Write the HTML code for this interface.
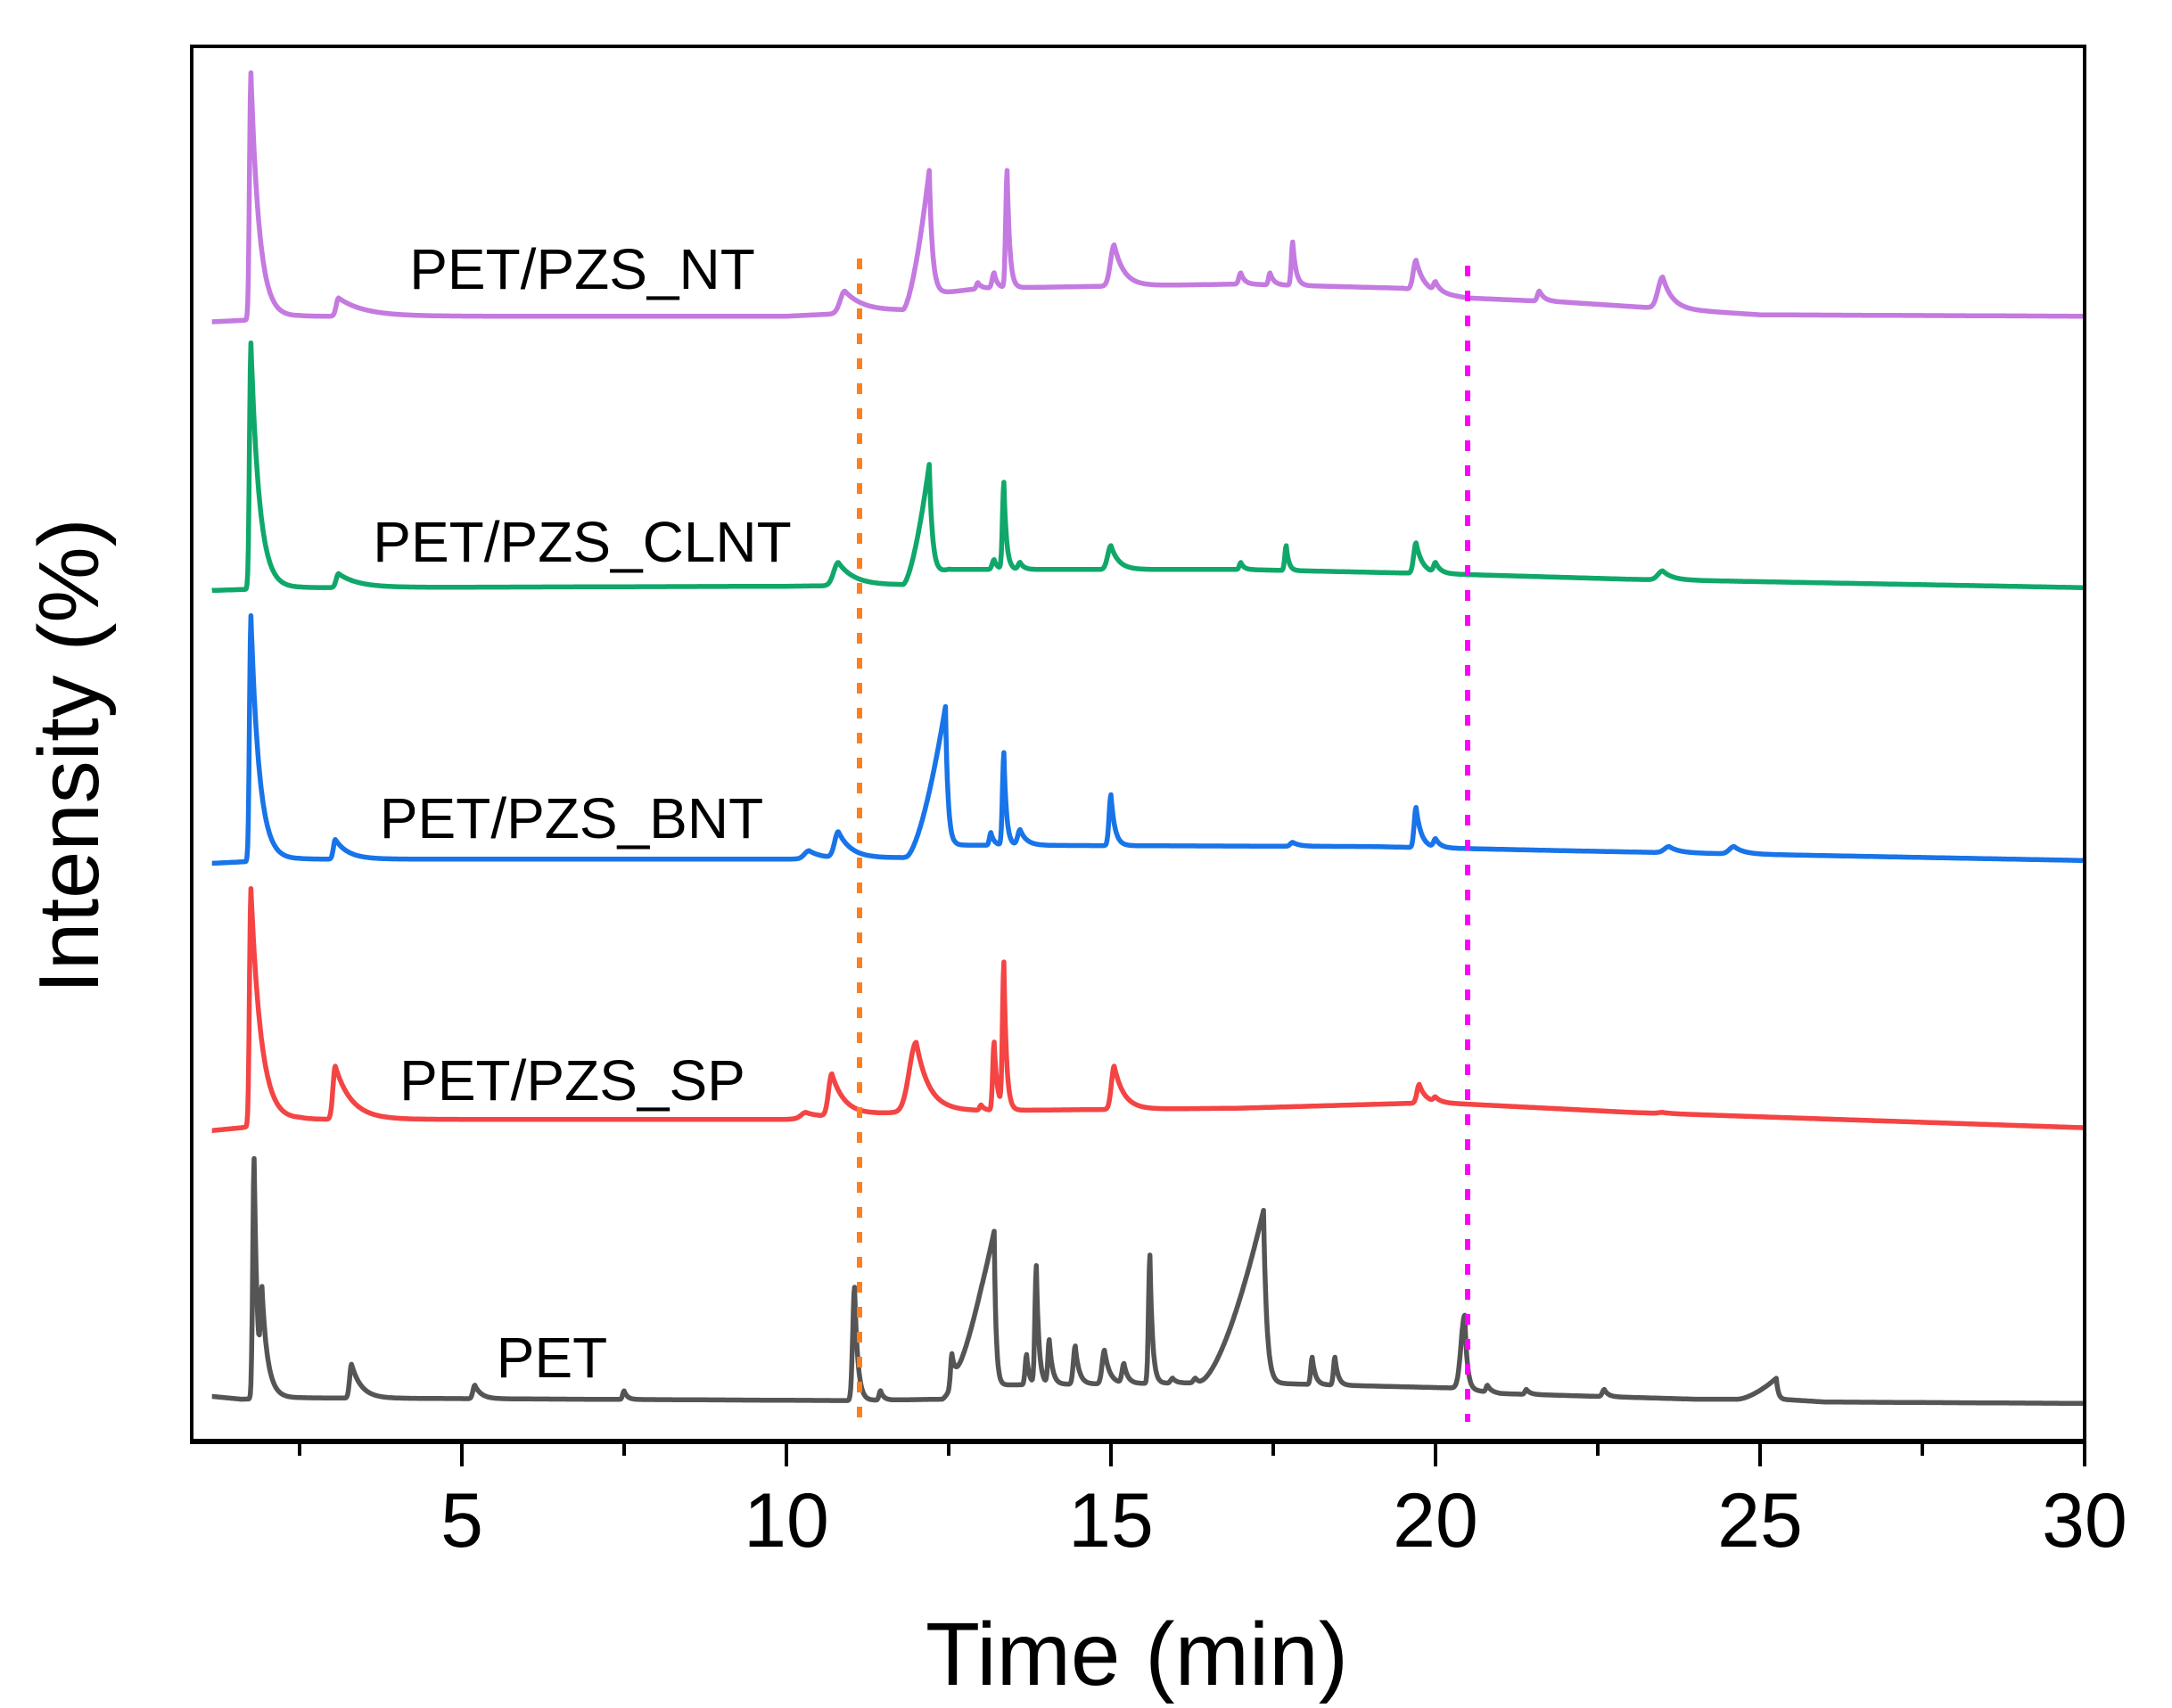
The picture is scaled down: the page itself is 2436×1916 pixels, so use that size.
<!DOCTYPE html>
<html><head><meta charset="utf-8"><style>
html,body{margin:0;padding:0;background:#fff}
svg{display:block}
text{font-family:"Liberation Sans",Arial,sans-serif;fill:#000}
</style></head><body>
<svg id="s" width="2436" height="1916" viewBox="0 0 2436 1916" xmlns="http://www.w3.org/2000/svg">
<rect width="2436" height="1916" fill="#fff"/>
<g id="traces"></g>
<line x1="964" y1="290" x2="964" y2="1590" stroke="#ff7f1e" stroke-width="6" stroke-dasharray="12 16"/>
<line x1="1646" y1="298" x2="1646" y2="1595" stroke="#ff00ff" stroke-width="6" stroke-dasharray="12 16"/>
<rect x="215" y="52" width="2123" height="1565" fill="none" stroke="#000" stroke-width="4"/>
<line x1="213" y1="1617" x2="2340" y2="1617" stroke="#000" stroke-width="6"/>
<g id="ticks" stroke="#000" stroke-width="4"></g>
<g font-size="86" text-anchor="middle">
<text x="518" y="1735">5</text><text x="882" y="1735">10</text><text x="1246" y="1735">15</text>
<text x="1610" y="1735">20</text><text x="1974" y="1735">25</text><text x="2338" y="1735">30</text>
</g>
<text x="1275" y="1890" font-size="100" text-anchor="middle">Time (min)</text>
<text transform="translate(110,848) rotate(-90)" font-size="96" text-anchor="middle">Intensity (%)</text>
<g font-size="64" text-anchor="middle">
<text x="653" y="324">PET/PZS_NT</text>
<text x="653" y="630">PET/PZS_CLNT</text>
<text x="641" y="940">PET/PZS_BNT</text>
<text x="642" y="1234">PET/PZS_SP</text>
<text x="619" y="1545">PET</text>
</g>
</svg>
<script>
const S=1.5696;
function X(t){return 518+(t-5)*72.8;}
const tk=document.getElementById('ticks');let h='';
for(let t=2.5;t<=30.01;t+=2.5){const x=X(t),maj=(Math.abs(t/5-Math.round(t/5))<1e-6);h+=`<line x1="${x}" y1="1617" x2="${x}" y2="${maj?1645:1633}"/>`;}
tk.innerHTML=h;
function interp(bl,t){if(t<=bl[0][0])return bl[0][1];for(let i=1;i<bl.length;i++){if(t<=bl[i][0]){const a=bl[i-1],b=bl[i];return a[1]+(b[1]-a[1])*(t-a[0])/(b[0]-a[0]);}}return bl[bl.length-1][1];}
function build(bl,pk,color){
  let d='';
  for(let t=1.15;t<=30;t+=0.01){
    const base=interp(bl,t);let off=0;
    for(const p of pk){const [t0,top,wr,wd,ramp]=p;const hgt=interp(bl,t0)-top;let v=0;
      if(t<t0){ if(ramp){ if(t>t0-wr) v=hgt*Math.pow((t-(t0-wr))/wr,1.6);} else v=hgt*Math.exp(-Math.pow((t-t0)/wr,2)); }
      else v=hgt*Math.exp(-(t-t0)/wd);
      off+=v;}
    const y=(base-off)*S;
    d+=(d?'L':'M')+X(t).toFixed(1)+' '+y.toFixed(1);
  }
  return `<path d="${d}" fill="none" stroke="${color}" stroke-width="5.5" stroke-linejoin="round"/>`;
}
const tr=[];
tr.push(build([[1.15,230],[1.6,229],[2.5,226],[10,226],[11.8,222],[12.3,210],[13,206],[17,203],[19.5,206],[20.5,213],[22,216],[25,225],[30,226]],
 [[1.75,52,0.03,0.13],[3.1,213,0.05,0.4],[10.9,208,0.1,0.3],[12.2,122,0.4,0.05,1],[13.4,122,0.03,0.04],[13.2,195,0.04,0.05],[12.95,202,0.03,0.05],[15.05,175,0.08,0.15],[17.0,195,0.04,0.06],[17.45,195,0.03,0.06],[17.8,173,0.03,0.05],[19.7,186,0.06,0.12],[20.0,203,0.04,0.08],[21.6,208,0.04,0.08],[23.5,198,0.1,0.15]],'#c47ae0'));
tr.push(build([[1.15,422],[2.5,420],[10,419],[11.8,418],[12.5,407],[17,407],[20,410],[23,414],[30,420]],
 [[1.75,245,0.03,0.13],[3.1,410,0.05,0.3],[10.8,402,0.1,0.25],[12.2,332,0.4,0.05,1],[13.35,345,0.03,0.04],[13.2,400,0.04,0.05],[13.6,402,0.04,0.06],[15.0,390,0.07,0.12],[17.0,402,0.03,0.05],[17.7,390,0.03,0.04],[19.7,388,0.05,0.1],[20.0,403,0.04,0.08],[23.5,408,0.1,0.15]],'#10a86a'));
tr.push(build([[1.15,617],[2.5,614],[10,614],[11.8,613],[12.6,604],[19,605],[22,608],[30,615]],
 [[1.75,440,0.03,0.13],[3.05,600,0.04,0.2],[10.8,595,0.08,0.2],[10.35,608,0.1,0.2],[12.45,505,0.6,0.04,1],[13.35,538,0.03,0.04],[13.15,595,0.03,0.05],[13.6,593,0.05,0.1],[15.0,568,0.04,0.06],[17.8,602,0.05,0.1],[19.7,577,0.04,0.08],[20.0,600,0.04,0.08],[23.6,605,0.1,0.15],[24.6,605,0.1,0.15]],'#1874e8'));
tr.push(build([[1.15,808],[1.6,806],[2.5,800],[10,800],[11.8,795],[12.5,794],[17,792],[20,788],[23,795],[30,806]],
 [[1.75,635,0.03,0.16],[3.05,762,0.05,0.25],[10.7,768,0.07,0.2],[10.3,795,0.1,0.2],[12.0,745,0.15,0.2],[13.35,690,0.03,0.04],[13.2,745,0.03,0.05],[13.0,790,0.03,0.05],[15.05,762,0.06,0.15],[19.75,775,0.05,0.1],[20.0,785,0.04,0.08],[23.5,795,0.08,0.12]],'#f44444'));
tr.push(build([[1.15,998],[1.6,1000],[2.5,999],[11,1001],[12.4,1000],[13,990],[17,988],[18.5,990],[20.3,992],[21,996],[24,1000],[25.3,1000],[26,1002],[30,1003]],
 [[1.8,828,0.03,0.05],[1.92,935,0.03,0.1],[3.3,975,0.04,0.15],[5.2,990,0.04,0.1],[7.5,994,0.03,0.05],[11.05,920,0.04,0.05],[11.45,994,0.03,0.05],[13.2,880,0.8,0.03,1],[12.55,975,0.03,0.05],[13.85,905,0.03,0.04],[13.7,968,0.03,0.04],[14.05,958,0.03,0.05],[14.45,962,0.04,0.06],[14.9,965,0.05,0.08],[15.2,975,0.04,0.06],[15.6,897,0.03,0.04],[15.95,985,0.04,0.06],[16.3,985,0.04,0.06],[17.35,865,1.0,0.05,1],[18.1,970,0.03,0.05],[18.45,970,0.03,0.05],[20.45,940,0.08,0.04],[20.8,990,0.03,0.06],[21.4,993,0.03,0.06],[22.6,993,0.04,0.06],[25.25,985,0.6,0.03,1]],'#555555'));
document.getElementById('traces').innerHTML=tr.join('');
</script>
</body></html>
